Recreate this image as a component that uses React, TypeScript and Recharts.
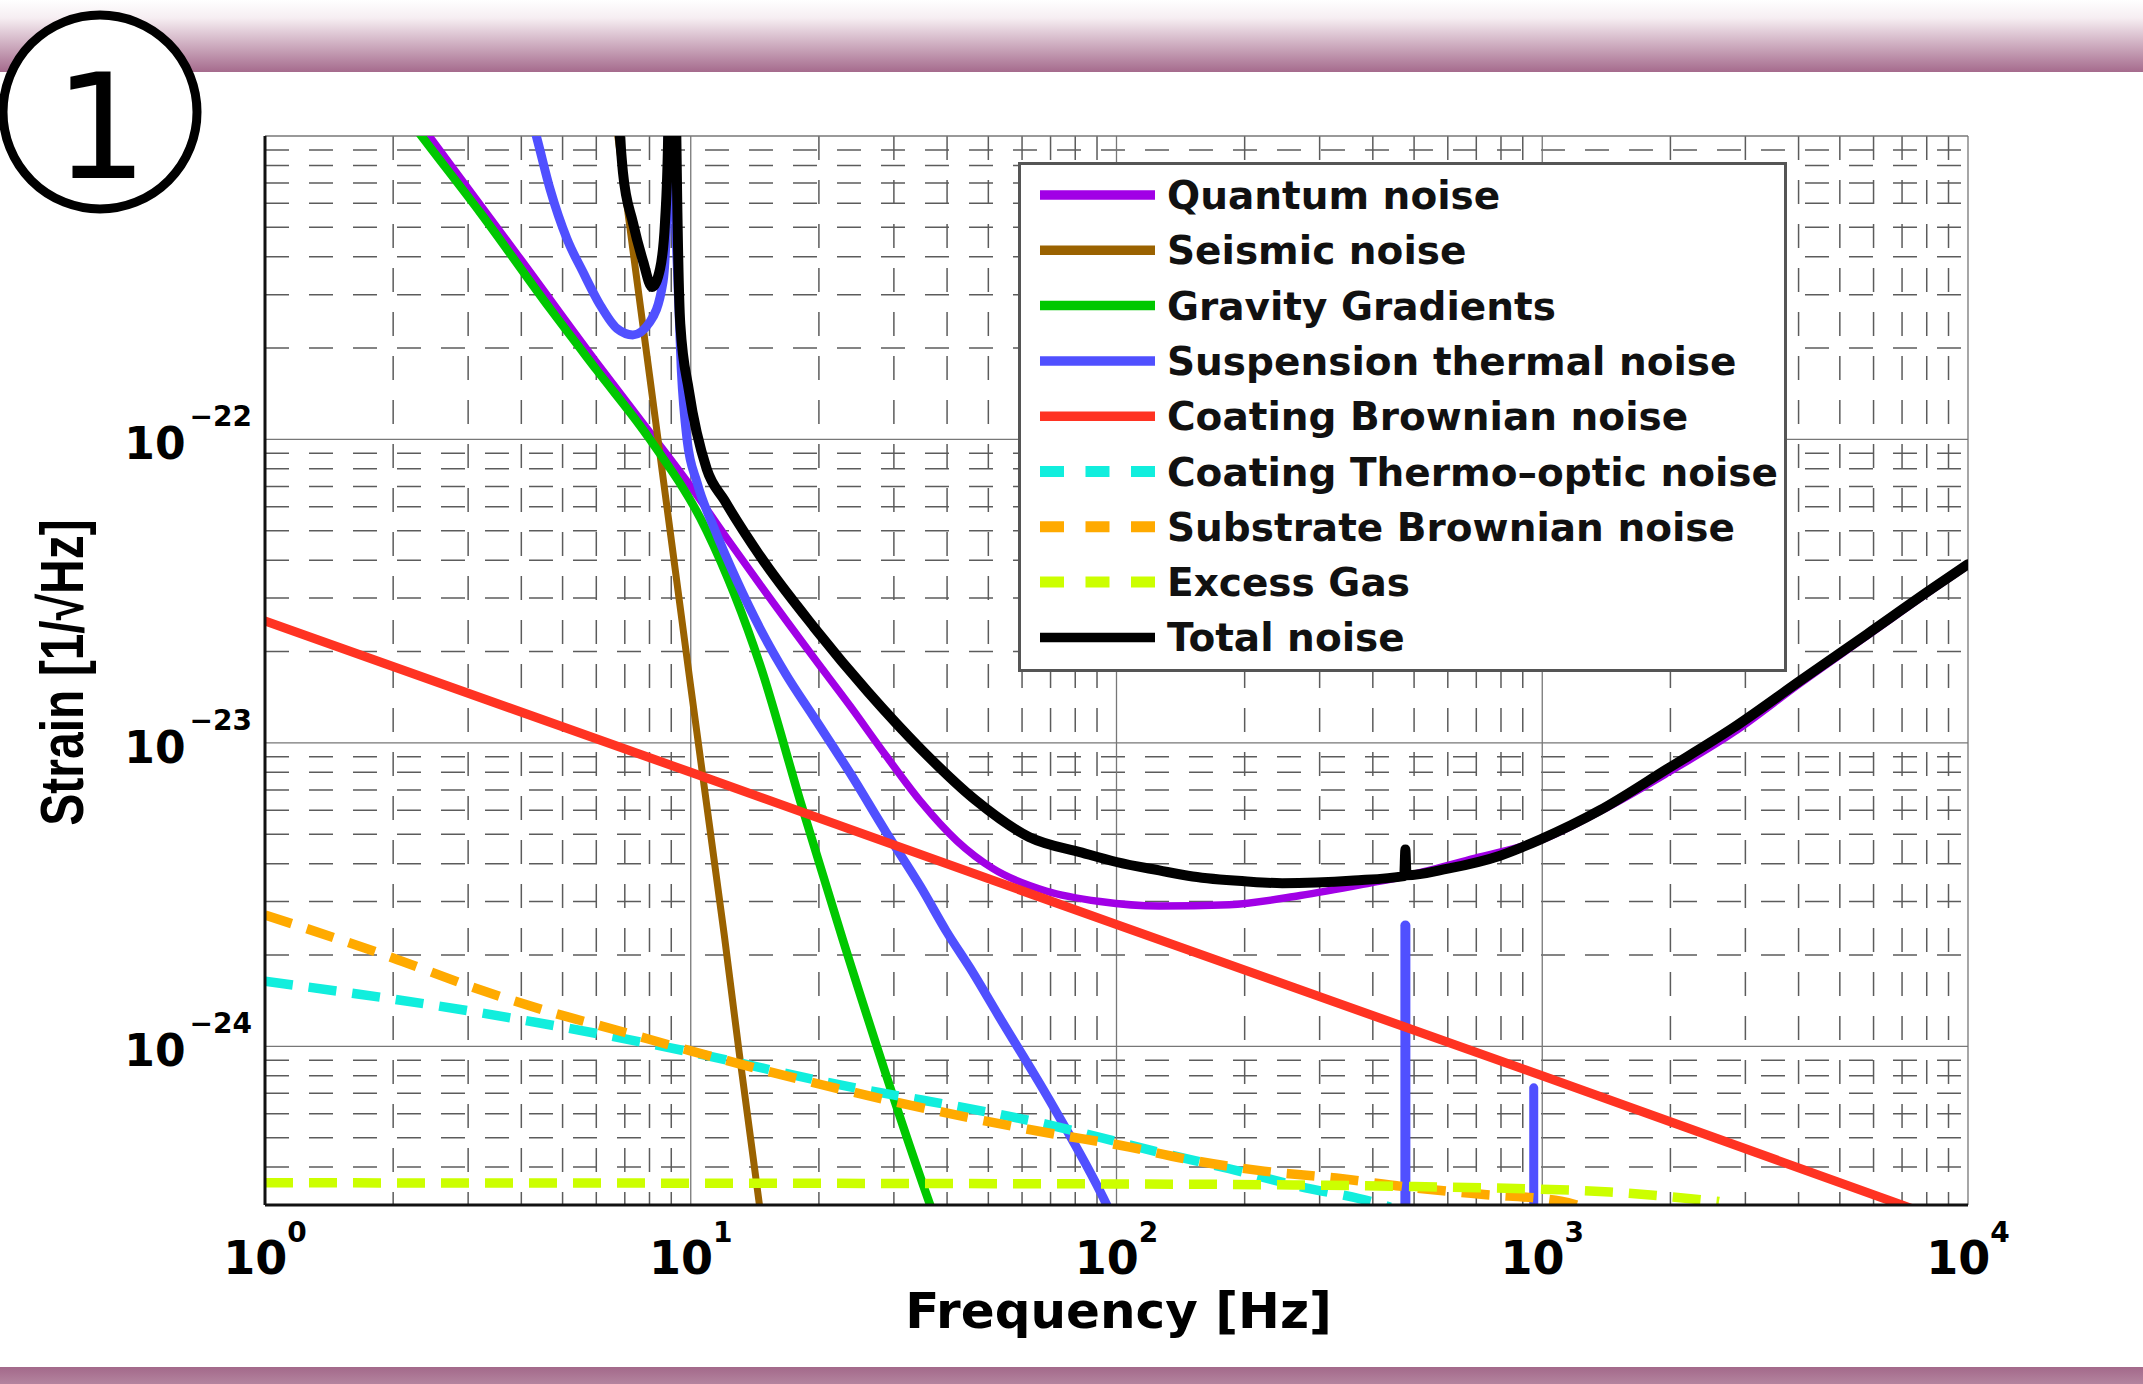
import React from 'react';
import { LineChart, Line, XAxis, YAxis, CartesianGrid, Legend } from 'recharts';

const W = 2143;
const H = 1384;

// ---- axes ----
const xDomain = [1, 10000];
const yDomain = [3e-25, 1e-21];
const xTicks = [1, 10, 100, 1000, 10000];
const xTickExponents = ['0', '1', '2', '3', '4'];
const yTicks = [1e-24, 1e-23, 1e-22];
const yTickExponents = ['\u221224', '\u221223', '\u221222'];
const xMinorTicks = [2, 3, 4, 5, 6, 7, 8, 9, 20, 30, 40, 50, 60, 70, 80, 90, 200, 300, 400, 500, 600, 700, 800, 900, 2000, 3000, 4000, 5000, 6000, 7000, 8000, 9000];
const yMinorTicks = [4e-25, 5e-25, 6e-25, 7e-25, 8e-25, 9e-25, 2e-24, 3e-24, 4e-24, 5e-24, 6e-24, 7e-24, 8e-24, 9e-24, 2e-23, 3e-23, 4e-23, 5e-23, 6e-23, 7e-23, 8e-23, 9e-23, 2e-22, 3e-22, 4e-22, 5e-22, 6e-22, 7e-22, 8e-22, 9e-22];

// ---- series (frequency [Hz], strain [1/sqrt(Hz)]) ----
const quantumF = [2.0, 2.45, 4.0, 6.0, 8.0, 10.0, 12.0, 14.6, 19.5, 23.7, 28.7, 34.7, 42.2, 51.3, 68.3, 91.5, 126, 184, 270, 396, 481, 710, 982, 1443, 1964, 2806, 4030, 5790, 8280, 10000];
const quantumV = [1.45e-21, 9.85e-22, 3.9e-22, 1.8e-22, 1.06e-22, 7.0e-23, 4.85e-23, 3.3e-23, 1.9e-23, 1.32e-23, 9.1e-24, 6.4e-24, 4.75e-24, 3.85e-24, 3.25e-24, 3.0e-24, 2.9e-24, 2.93e-24, 3.14e-24, 3.46e-24, 3.65e-24, 4.2e-24, 4.75e-24, 6.2e-24, 7.95e-24, 1.08e-23, 1.57e-23, 2.25e-23, 3.21e-23, 3.85e-23];

const seismicF = [6.5, 6.75, 8.0, 10.0, 12.0, 13.0, 14.5, 15.0];
const seismicV = [1.47e-21, 9.85e-22, 1.63e-22, 1.53e-23, 2.3e-24, 9.5e-25, 3.0e-25, 2.1e-25];

const gravityF = [2.0, 2.35, 3.2, 4.67, 6.0, 8.02, 10.9, 14.6, 18.1, 22.8, 36.5, 40];
const gravityV = [1.33e-21, 9.85e-22, 5.6e-22, 2.7e-22, 1.7e-22, 1.0e-22, 5.0e-23, 1.78e-23, 6.4e-24, 2.23e-24, 3.0e-25, 2.1e-25];

const suspensionF = [4.0, 4.35, 4.67, 5.12, 5.58, 6.12, 6.71, 7.31, 8.02, 8.61, 8.8, 8.97, 9.1, 9.25, 9.5, 9.8, 10.35, 11.35, 12.8, 14.6, 16.7, 19.5, 23.7, 28.7, 34.7, 39.8, 46.0, 52.7, 69.8, 96, 105];
const suspensionV = [1.5e-21, 9.85e-22, 6.7e-22, 4.58e-22, 3.57e-22, 2.78e-22, 2.32e-22, 2.21e-22, 2.44e-22, 3.31e-22, 6e-22, 5e-21, 1.0e-21, 4.5e-22, 1.7e-22, 1.0e-22, 7.2e-23, 5.1e-23, 3.45e-23, 2.36e-23, 1.69e-23, 1.21e-23, 7.93e-24, 5.1e-24, 3.35e-24, 2.4e-24, 1.75e-24, 1.27e-24, 6.6e-25, 2.9e-25, 2.2e-25];
const violin1F = [477, 477];
const violin1V = [2.9e-25, 2.5e-24];
const violin2F = [955, 955];
const violin2V = [2.9e-25, 7.3e-25];

const coatingBrownF = [1, 10, 100, 1000, 7000, 8000];
const coatingBrownV = [2.52e-23, 8.0e-24, 2.52e-24, 8.0e-25, 3.0e-25, 2.8e-25];

const thermoOpticF = [1, 3.1, 9.9, 20.1, 69.8, 124, 184, 270, 396, 440];
const thermoOpticV = [1.64e-24, 1.3e-24, 9.6e-25, 7.7e-25, 5.5e-25, 4.5e-25, 3.95e-25, 3.45e-25, 3.08e-25, 2.95e-25];

const substrateF = [1, 1.99, 3.1, 4.57, 6.71, 9.9, 20.1, 69.8, 102, 151, 222, 328, 481, 710, 1107, 1250];
const substrateV = [2.71e-24, 1.96e-24, 1.56e-24, 1.31e-24, 1.13e-24, 9.7e-25, 7.5e-25, 5.17e-25, 4.72e-25, 4.21e-25, 3.88e-25, 3.68e-25, 3.44e-25, 3.26e-25, 3.09e-25, 2.95e-25];

const excessGasF = [1, 100, 500, 1443, 2600];
const excessGasV = [3.55e-25, 3.52e-25, 3.45e-25, 3.31e-25, 3.08e-25];

const totalF = [6.0, 6.82, 6.93, 7.31, 7.73, 8.11, 8.47, 8.7, 8.85, 9.05, 9.25, 9.45, 9.9, 10.9, 12.0, 14.6, 19.5, 26.1, 34.7, 46.5, 62.3, 83, 100, 126, 151, 200, 245, 361, 474, 477, 480, 600, 796, 988, 1367, 1964, 2806, 4030, 5790, 8280, 10000];
const totalV = [3e-21, 9.85e-22, 7.6e-22, 5.2e-22, 3.86e-22, 3.18e-22, 3.65e-22, 5.2e-22, 1.0e-21, 3e-20, 1.0e-21, 2.4e-22, 1.45e-22, 8.0e-23, 6.3e-23, 4.1e-23, 2.4e-23, 1.47e-23, 9.55e-24, 6.5e-24, 4.9e-24, 4.35e-24, 4.05e-24, 3.8e-24, 3.63e-24, 3.5e-24, 3.45e-24, 3.52e-24, 3.64e-24, 4.45e-24, 3.66e-24, 3.85e-24, 4.25e-24, 4.8e-24, 6.0e-24, 8.2e-24, 1.12e-23, 1.6e-23, 2.28e-23, 3.24e-23, 3.88e-23];

const toPoints = (f: number[], v: number[]) => f.map((x, i) => ({ f: x, v: v[i] }));

type Series = { name: string; f: number[]; v: number[]; color: string; width: number; dash?: string; curve: 'monotone' | 'linear' };

const seriesList: Series[] = [
  { name: 'Quantum noise', f: quantumF, v: quantumV, color: '#a100e6', width: 7.5, curve: 'monotone' },
  { name: 'Seismic noise', f: seismicF, v: seismicV, color: '#9a6200', width: 7, curve: 'linear' },
  { name: 'Gravity Gradients', f: gravityF, v: gravityV, color: '#00c800', width: 8.5, curve: 'monotone' },
  { name: 'Suspension thermal noise', f: suspensionF, v: suspensionV, color: '#5050ff', width: 9, curve: 'monotone' },
  { name: 'Coating Brownian noise', f: coatingBrownF, v: coatingBrownV, color: '#ff3322', width: 9, curve: 'linear' },
  { name: 'Coating Thermo\u2013optic noise', f: thermoOpticF, v: thermoOpticV, color: '#11eedd', width: 9.5, dash: '28 16', curve: 'monotone' },
  { name: 'Substrate Brownian noise', f: substrateF, v: substrateV, color: '#ffaa00', width: 9.5, dash: '28 16', curve: 'monotone' },
  { name: 'Excess Gas', f: excessGasF, v: excessGasV, color: '#ccff00', width: 9.5, dash: '28 16', curve: 'monotone' },
  { name: 'Total noise', f: totalF, v: totalV, color: '#000000', width: 10, curve: 'monotone' },
];

const FONT = 'DejaVu Sans';

const XTick = (props: any) => {
  const { x, y, payload } = props;
  const i = xTicks.findIndex((t) => Math.abs(t - payload.value) / t < 1e-6);
  return (
    <text x={x} y={y + 69} textAnchor="middle" fontFamily={FONT} fontWeight="bold" fill="#000">
      <tspan fontSize={46}>10</tspan>
      <tspan fontSize={28} dy={-32}>{xTickExponents[i]}</tspan>
    </text>
  );
};

const YTick = (props: any) => {
  const { x, y, payload } = props;
  const i = yTicks.findIndex((t) => Math.abs(t - payload.value) / t < 1e-6);
  return (
    <text x={x} y={y + 20} textAnchor="end" fontFamily={FONT} fontWeight="bold" fill="#000">
      <tspan fontSize={44}>10</tspan>
      <tspan fontSize={28} dx={4} dy={-33}>{yTickExponents[i]}</tspan>
    </text>
  );
};

const XTitle = (props: any) => {
  const vb = props.viewBox || { x: 0, y: 0, width: 0, height: 0 };
  return (
    <text x={vb.x + vb.width / 2 + 2} y={vb.y + 123} textAnchor="middle" fontFamily={FONT} fontWeight="bold" fontSize={50} fill="#000">
      Frequency [Hz]
    </text>
  );
};

const YTitle = (props: any) => {
  const vb = props.viewBox || { x: 0, y: 0, width: 0, height: 0 };
  const cx = vb.x + 18;
  const cy = vb.y + vb.height / 2 + 2;
  return (
    <text transform={`translate(${cx},${cy}) rotate(-90) scale(1,1.27)`} textAnchor="middle" fontFamily="Liberation Sans" fontWeight="bold" fontSize={48} fill="#000">
      Strain [1/√Hz]
    </text>
  );
};

const renderLegend = (props: any) => {
  const names = (props.payload || []).map((p: any) => p.value);
  const items = seriesList.filter((s) => names.includes(s.name));
  return (
    <svg width={769} height={510} style={{ display: 'block' }}>
      <rect x={1.5} y={1.5} width={766} height={507} fill="#ffffff" stroke="#555" strokeWidth={3} />
      {items.map((s, i) => {
        const cy = 33 + i * 55.3;
        return (
          <g key={s.name}>
            <line x1={22} x2={137} y1={cy} y2={cy} stroke={s.color} strokeWidth={s.dash ? 11 : 9.5} strokeDasharray={s.dash ? '24 21.5' : undefined} />
            <text x={149} y={cy + 14} fontFamily={FONT} fontWeight="bold" fontSize={39} fill="#111">
              {s.name}
            </text>
          </g>
        );
      })}
    </svg>
  );
};

const lineProps = (s: Series) => ({
  data: toPoints(s.f, s.v),
  dataKey: 'v',
  name: s.name,
  type: s.curve,
  stroke: s.color,
  strokeWidth: s.width,
  strokeDasharray: s.dash,
  strokeLinecap: (s.dash ? 'butt' : 'round') as any,
  strokeLinejoin: 'round' as any,
  dot: false,
  activeDot: false,
  isAnimationActive: false,
});

export default function App() {
  return (
    <div style={{ position: 'absolute', left: 0, top: 0, width: W, height: H, background: '#fff', overflow: 'hidden' }}>
      <svg width={W} height={H} style={{ position: 'absolute', left: 0, top: 0 }}>
        <defs>
          <linearGradient id="topBand" x1="0" y1="0" x2="0" y2="1">
            <stop offset="0" stopColor="#ffffff" />
            <stop offset="0.25" stopColor="#f6eef2" />
            <stop offset="1" stopColor="#a56b8d" />
          </linearGradient>
          <linearGradient id="botBand" x1="0" y1="0" x2="0" y2="1">
            <stop offset="0" stopColor="#a3698a" />
            <stop offset="1" stopColor="#b4849f" />
          </linearGradient>
        </defs>
        <rect x={0} y={0} width={W} height={72} fill="url(#topBand)" />
        <rect x={0} y={1367} width={W} height={17} fill="url(#botBand)" />
        <circle cx={100} cy={112} r={97} fill="#fff" stroke="#000" strokeWidth={9} />
        <text x={101} y={178} textAnchor="middle" fontFamily={FONT} fontSize={147} fill="#000">
          1
        </text>
      </svg>
      <div style={{ position: 'absolute', left: 0, top: 0 }}>
        <LineChart width={W} height={H} margin={{ top: 136, right: 175, bottom: 79, left: 65 }} style={{ fontFamily: FONT }}>
          <CartesianGrid verticalValues={xMinorTicks} horizontalValues={yMinorTicks} stroke="#5c5c5c" strokeWidth={1.5} strokeDasharray="24 20" />
          <CartesianGrid stroke="#777" strokeWidth={1.3} />
          {seriesList.slice(0, 4).map((s) => (
            <Line key={s.name} {...lineProps(s)} />
          ))}
          <Line data={toPoints(violin1F, violin1V)} dataKey="v" name="violin1" legendType="none" type="linear" stroke="#5050ff" strokeWidth={10} strokeLinecap="round" dot={false} activeDot={false} isAnimationActive={false} />
          <Line data={toPoints(violin2F, violin2V)} dataKey="v" name="violin2" legendType="none" type="linear" stroke="#5050ff" strokeWidth={9} strokeLinecap="round" dot={false} activeDot={false} isAnimationActive={false} />
          {seriesList.slice(4).map((s) => (
            <Line key={s.name} {...lineProps(s)} />
          ))}
          <XAxis dataKey="f" type="number" scale="log" domain={xDomain} allowDataOverflow ticks={xTicks} interval={0} height={100} tickSize={0} tickMargin={0} tick={<XTick />} tickLine={false} axisLine={{ stroke: '#111', strokeWidth: 3 }} label={<XTitle />} />
          <XAxis xAxisId="minor" orientation="top" dataKey="f" type="number" scale="log" domain={xDomain} allowDataOverflow ticks={xMinorTicks} interval={0} height={0} tick={false} tickLine={false} axisLine={{ stroke: '#111', strokeWidth: 3 }} />
          <YAxis type="number" scale="log" domain={yDomain} allowDataOverflow ticks={yTicks} interval={0} width={200} tickSize={0} tickMargin={13} tick={<YTick />} tickLine={false} axisLine={{ stroke: '#111', strokeWidth: 3 }} label={<YTitle />} />
          <YAxis yAxisId="minor" orientation="right" type="number" scale="log" domain={yDomain} allowDataOverflow ticks={yMinorTicks} interval={0} width={0} tick={false} tickLine={false} axisLine={{ stroke: '#111', strokeWidth: 3 }} />
          <Legend layout="vertical" align="center" verticalAlign="middle" wrapperStyle={{ left: 1018, top: 162, width: 769, height: 510 }} content={renderLegend} />
        </LineChart>
      </div>
    </div>
  );
}
